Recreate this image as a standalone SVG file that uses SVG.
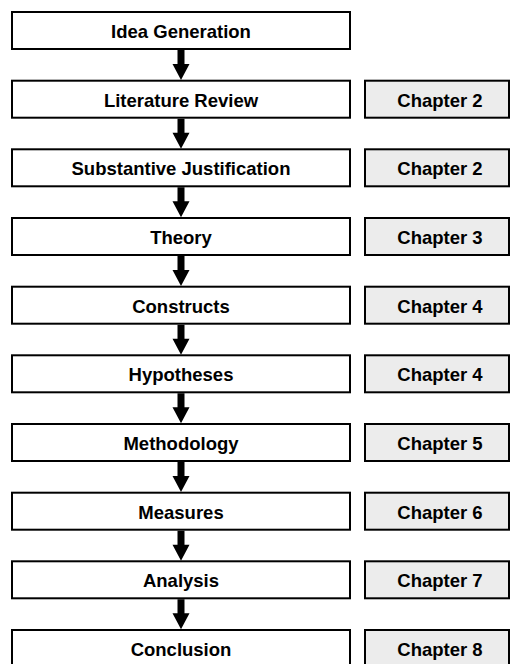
<svg xmlns="http://www.w3.org/2000/svg" width="511" height="664" viewBox="0 0 511 664">
  <style>
    .step { fill: #ffffff; stroke: #000000; stroke-width: 2; }
    .chap { fill: #ececec; stroke: #000000; stroke-width: 2; }
    .lbl { font-family: "Liberation Sans", Arial, sans-serif; font-weight: bold; font-size: 18.5px; fill: #000000; text-anchor: middle; }
    .arrow { fill: #000000; }
  </style>
  <defs>
    <!-- downward block arrow between consecutive steps -->
    <path id="down" class="arrow" d="M177.5,0 H184.5 V14 H189.5 L181,30 L172.5,14 H177.5 Z"/>
  </defs>
  <rect width="511" height="664" fill="#ffffff"/>

  <g id="connectors">
    <use href="#down" y="50"/>
    <use href="#down" y="118.7"/>
    <use href="#down" y="187.3"/>
    <use href="#down" y="256"/>
    <use href="#down" y="324.7"/>
    <use href="#down" y="393.3"/>
    <use href="#down" y="462"/>
    <use href="#down" y="530.7"/>
    <use href="#down" y="599.3"/>
  </g>

  <g id="idea-generation" transform="translate(0,11)">
    <rect class="step" x="12" y="1" width="338" height="37"/>
    <text class="lbl" x="181" y="27">Idea Generation</text>
  </g>
  <g id="literature-review" transform="translate(0,79.7)">
    <rect class="step" x="12" y="1" width="338" height="37"/>
    <text class="lbl" x="181" y="27">Literature Review</text>
  </g>
  <g id="chapter-2a" transform="translate(0,79.7)">
    <rect class="chap" x="365" y="1" width="144" height="37"/>
    <text class="lbl" x="440" y="27">Chapter 2</text>
  </g>
  <g id="substantive-justification" transform="translate(0,148.3)">
    <rect class="step" x="12" y="1" width="338" height="37"/>
    <text class="lbl" x="181" y="27">Substantive Justification</text>
  </g>
  <g id="chapter-2b" transform="translate(0,148.3)">
    <rect class="chap" x="365" y="1" width="144" height="37"/>
    <text class="lbl" x="440" y="27">Chapter 2</text>
  </g>
  <g id="theory" transform="translate(0,217)">
    <rect class="step" x="12" y="1" width="338" height="37"/>
    <text class="lbl" x="181" y="27">Theory</text>
  </g>
  <g id="chapter-3" transform="translate(0,217)">
    <rect class="chap" x="365" y="1" width="144" height="37"/>
    <text class="lbl" x="440" y="27">Chapter 3</text>
  </g>
  <g id="constructs" transform="translate(0,285.7)">
    <rect class="step" x="12" y="1" width="338" height="37"/>
    <text class="lbl" x="181" y="27">Constructs</text>
  </g>
  <g id="chapter-4a" transform="translate(0,285.7)">
    <rect class="chap" x="365" y="1" width="144" height="37"/>
    <text class="lbl" x="440" y="27">Chapter 4</text>
  </g>
  <g id="hypotheses" transform="translate(0,354.3)">
    <rect class="step" x="12" y="1" width="338" height="37"/>
    <text class="lbl" x="181" y="27">Hypotheses</text>
  </g>
  <g id="chapter-4b" transform="translate(0,354.3)">
    <rect class="chap" x="365" y="1" width="144" height="37"/>
    <text class="lbl" x="440" y="27">Chapter 4</text>
  </g>
  <g id="methodology" transform="translate(0,423)">
    <rect class="step" x="12" y="1" width="338" height="37"/>
    <text class="lbl" x="181" y="27">Methodology</text>
  </g>
  <g id="chapter-5" transform="translate(0,423)">
    <rect class="chap" x="365" y="1" width="144" height="37"/>
    <text class="lbl" x="440" y="27">Chapter 5</text>
  </g>
  <g id="measures" transform="translate(0,491.7)">
    <rect class="step" x="12" y="1" width="338" height="37"/>
    <text class="lbl" x="181" y="27">Measures</text>
  </g>
  <g id="chapter-6" transform="translate(0,491.7)">
    <rect class="chap" x="365" y="1" width="144" height="37"/>
    <text class="lbl" x="440" y="27">Chapter 6</text>
  </g>
  <g id="analysis" transform="translate(0,560.3)">
    <rect class="step" x="12" y="1" width="338" height="37"/>
    <text class="lbl" x="181" y="27">Analysis</text>
  </g>
  <g id="chapter-7" transform="translate(0,560.3)">
    <rect class="chap" x="365" y="1" width="144" height="37"/>
    <text class="lbl" x="440" y="27">Chapter 7</text>
  </g>
  <g id="conclusion" transform="translate(0,629)">
    <rect class="step" x="12" y="1" width="338" height="37"/>
    <text class="lbl" x="181" y="27">Conclusion</text>
  </g>
  <g id="chapter-8" transform="translate(0,629)">
    <rect class="chap" x="365" y="1" width="144" height="37"/>
    <text class="lbl" x="440" y="27">Chapter 8</text>
  </g>
</svg>
